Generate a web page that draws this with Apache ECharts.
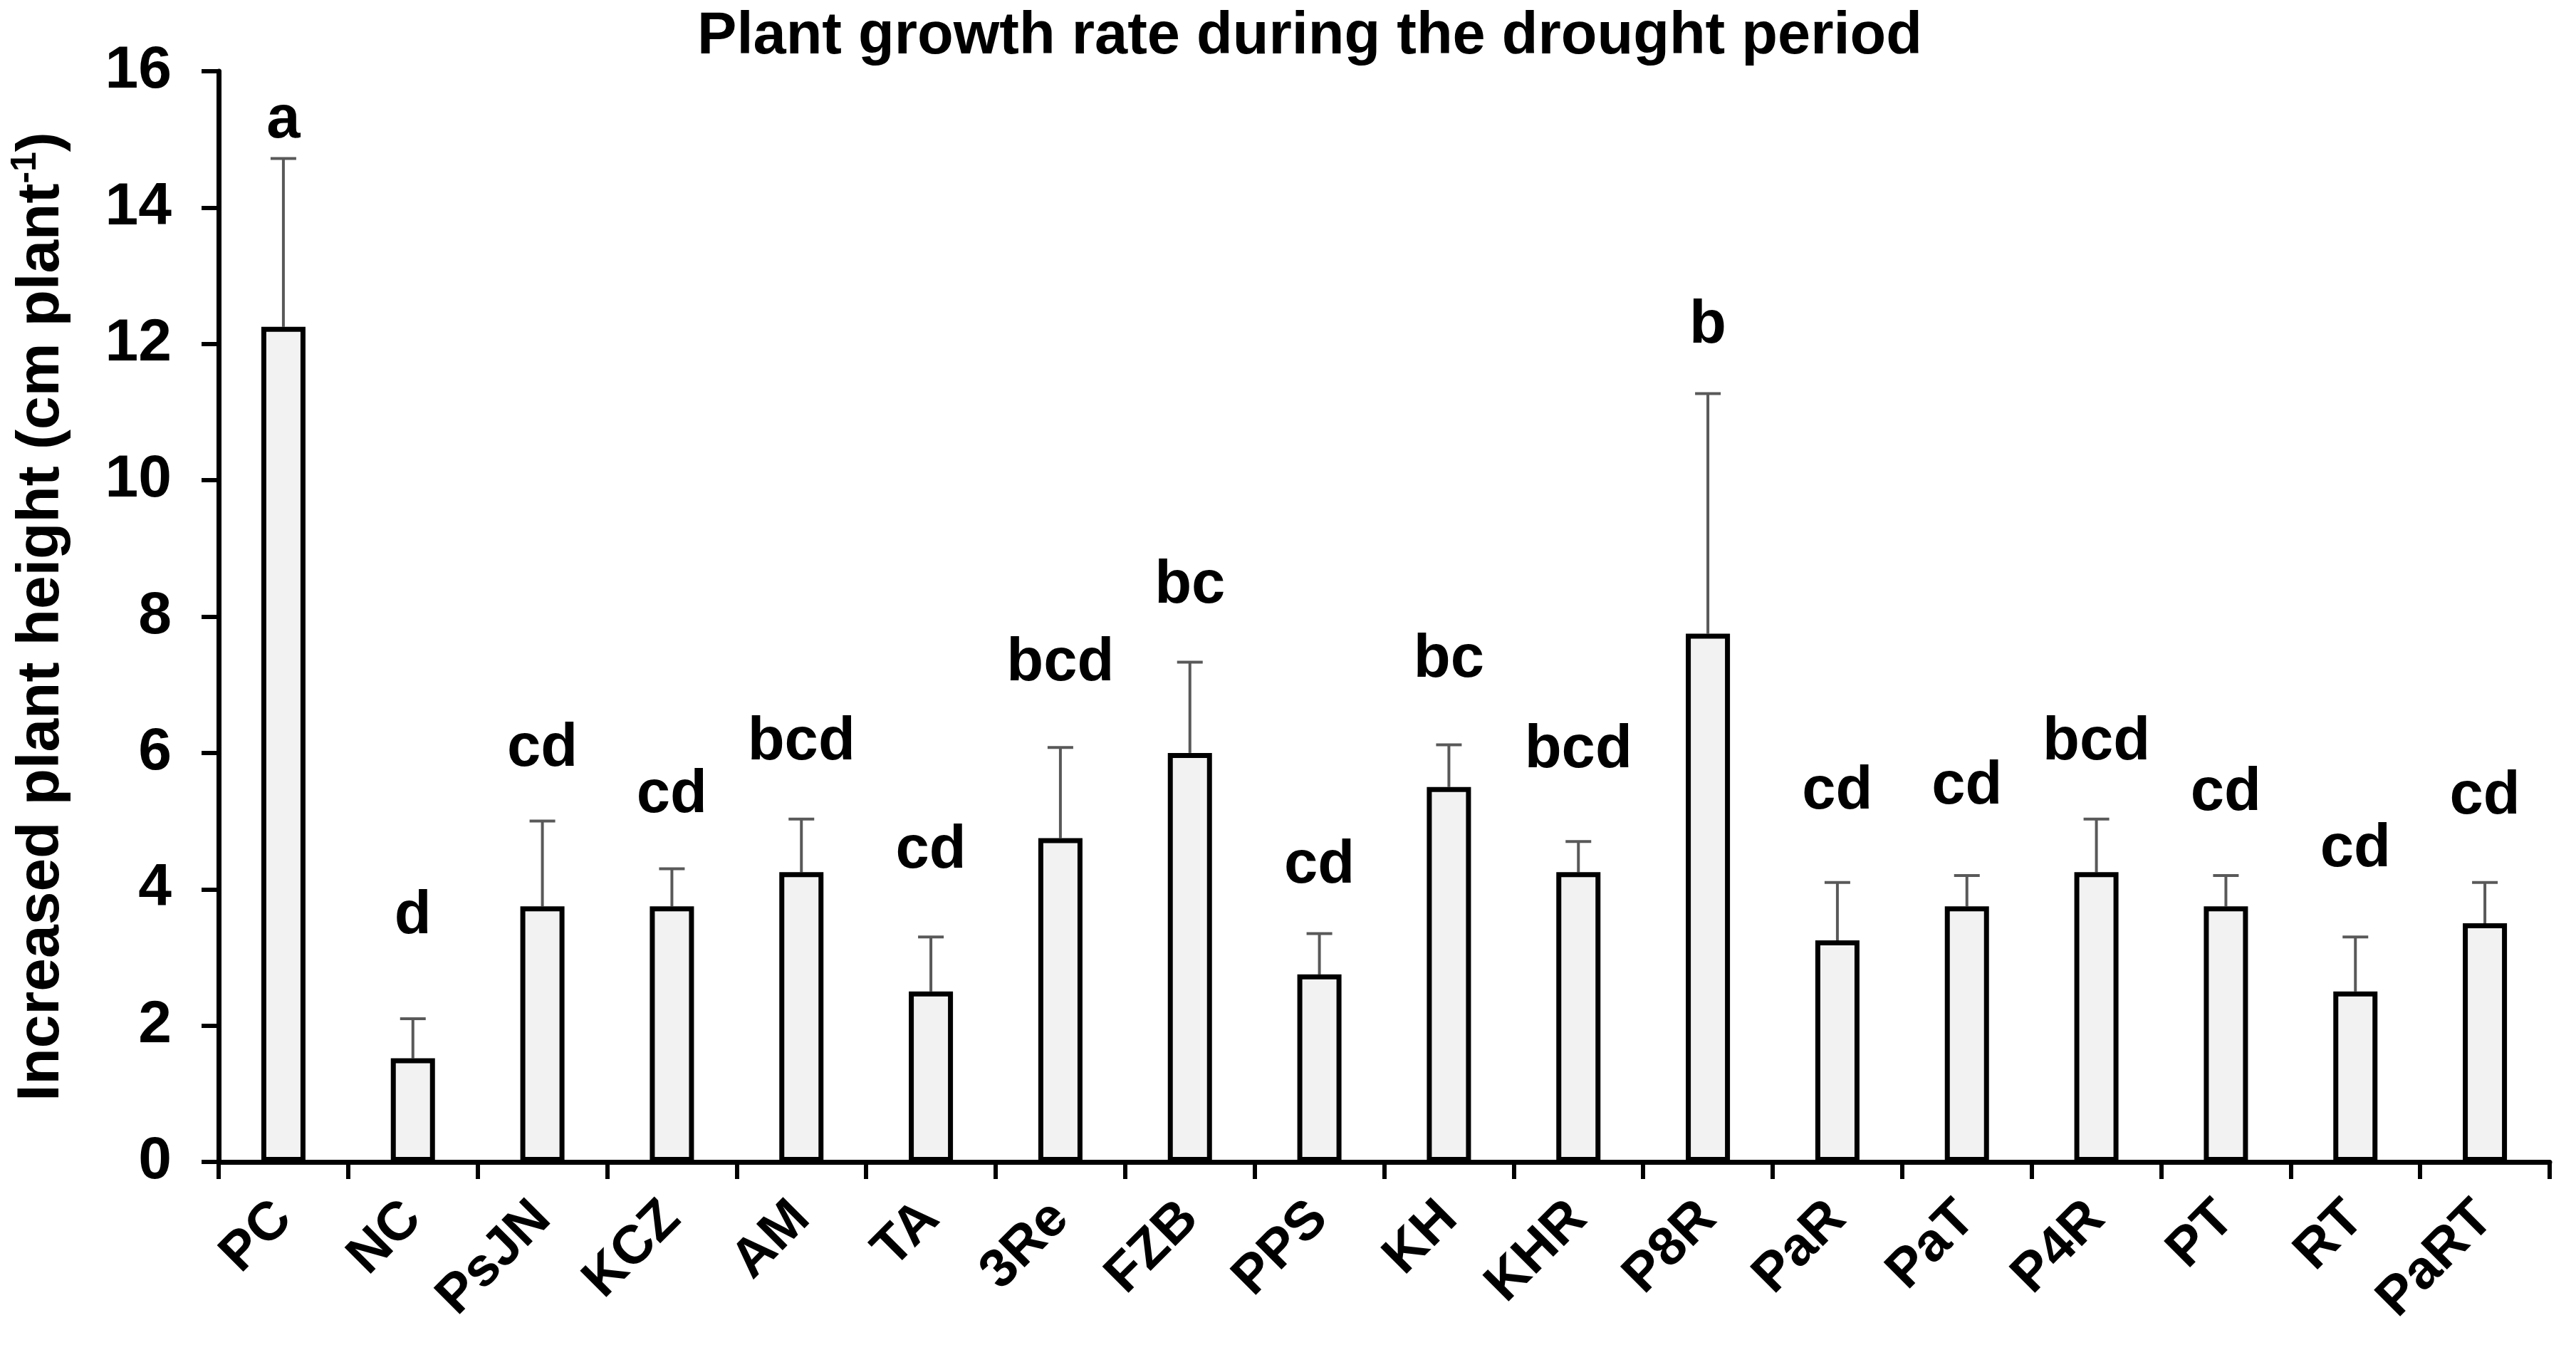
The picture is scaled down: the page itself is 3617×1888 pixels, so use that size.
<!DOCTYPE html>
<html>
<head>
	<meta charset="utf-8">
	<title>Plant growth rate during the drought period</title>
	<style>
		html, body {
			margin: 0;
			padding: 0;
			background: #fff;
		}

		#chart {
			width: 3617px;
			height: 1888px;
		}
	</style>
</head>
<body>
	<div id="chart"></div>
	<script src="https://cdn.jsdelivr.net/npm/echarts@6/dist/echarts.min.js"></script>
	<script type="text/javascript">
		// treatments on the x axis
		var treatments = ['PC', 'NC', 'PsJN', 'KCZ', 'AM', 'TA', '3Re', 'FZB', 'PPS',
			'KH', 'KHR', 'P8R', 'PaR', 'PaT', 'P4R', 'PT', 'RT', 'PaRT'];
		// mean increase of plant height (cm plant-1)
		var means = [12.25, 1.52, 3.75, 3.75, 4.25, 2.5, 4.75, 6.0, 2.75,
			5.5, 4.25, 7.75, 3.25, 3.75, 4.25, 3.75, 2.5, 3.5];
		// upper end of the error bars
		var errorTop = [14.72, 2.1, 5.0, 4.3, 5.03, 3.3, 6.08, 7.33, 3.35,
			6.12, 4.7, 11.27, 4.1, 4.2, 5.03, 4.2, 3.3, 4.1];
		// significance letters and the height they are written at
		var letters = ['a', 'd', 'cd', 'cd', 'bcd', 'cd', 'bcd', 'bc', 'cd',
			'bc', 'bcd', 'b', 'cd', 'cd', 'bcd', 'cd', 'cd', 'cd'];
		var letterY = [15.27, 3.6, 6.06, 5.38, 6.15, 4.56, 7.31, 8.45, 4.34,
			7.36, 6.03, 12.26, 5.43, 5.5, 6.15, 5.41, 4.58, 5.36];
		var yTicks = [0, 16, 2]; // min, max, interval

		var FONT = 'Liberation Sans, Arial, sans-serif';

		var errData = [];
		for (var i = 0; i < treatments.length; i++) {
			errData.push([i, means[i], errorTop[i], letterY[i]]);
		}

		var myChart = echarts.init(document.getElementById('chart'));
		var option = {
			backgroundColor: '#fff',
			animation: false,
			title: {
				text: 'Plant growth rate during the drought period',
				left: 1834,
				top: 6,
				textAlign: 'center',
				textStyle: {
					fontFamily: FONT,
					fontWeight: 'bold',
					fontSize: 83,
					color: '#000'
				}
			},
			grid: {
				left: 307,
				right: 37,
				top: 100,
				bottom: 257
			},
			xAxis: {
				type: 'category',
				data: treatments,
				axisLine: {
					lineStyle: { color: '#000', width: 7 }
				},
				axisTick: {
					show: true,
					length: 24,
					lineStyle: { color: '#000', width: 6 }
				},
				axisLabel: {
					rotate: 45,
					margin: 68,
					interval: 0,
					fontFamily: FONT,
					fontWeight: 'bold',
					fontSize: 76,
					color: '#000'
				}
			},
			yAxis: {
				type: 'value',
				min: yTicks[0],
				max: yTicks[1],
				interval: yTicks[2],
				name: '{n|Increased plant height (cm plant}{sup|-1}{n|)}',
				nameLocation: 'middle',
				nameRotate: 90,
				nameGap: 200,
				nameTextStyle: {
					rich: {
						n: {
							fontFamily: FONT,
							fontWeight: 'bold',
							fontSize: 84,
							lineHeight: 96,
							color: '#000'
						},
						sup: {
							fontFamily: FONT,
							fontWeight: 'bold',
							fontSize: 50,
							verticalAlign: 'top',
							lineHeight: 96,
							color: '#000'
						}
					}
				},
				axisLine: {
					show: true,
					lineStyle: { color: '#000', width: 7 }
				},
				axisTick: {
					show: true,
					length: 24,
					lineStyle: { color: '#000', width: 6 }
				},
				axisLabel: {
					margin: 66,
					fontFamily: FONT,
					fontWeight: 'bold',
					fontSize: 84,
					color: '#000'
				},
				splitLine: { show: false }
			},
			series: [{
				name: 'mean',
				type: 'bar',
				data: means,
				barWidth: 62,
				itemStyle: {
					color: '#f2f2f2',
					borderColor: '#000',
					borderWidth: 7
				},
				z: 3
			}, {
				// error bars (upward only) with the significance letters
				name: 'error',
				type: 'custom',
				data: errData,
				renderItem: function(params, api) {
					var lo = api.coord([api.value(0), api.value(1)]);
					var hi = api.coord([api.value(0), api.value(2)]);
					var lt = api.coord([api.value(0), api.value(3)]);
					var capHalf = 18;
					var st = { stroke: '#595959', lineWidth: 4 };
					return {
						type: 'group',
						children: [{
							type: 'line',
							shape: { x1: lo[0], y1: lo[1], x2: hi[0], y2: hi[1] },
							style: st
						}, {
							type: 'line',
							shape: { x1: hi[0] - capHalf, y1: hi[1], x2: hi[0] + capHalf, y2: hi[1] },
							style: st
						}, {
							type: 'text',
							x: lt[0],
							y: lt[1],
							style: {
								text: letters[params.dataIndex],
								fill: '#000',
								font: 'bold 85px ' + FONT,
								textAlign: 'center',
								textVerticalAlign: 'middle'
							}
						}]
					};
				},
				z: 2
			}]
		};
		myChart.setOption(option);
	</script>
</body>
</html>
